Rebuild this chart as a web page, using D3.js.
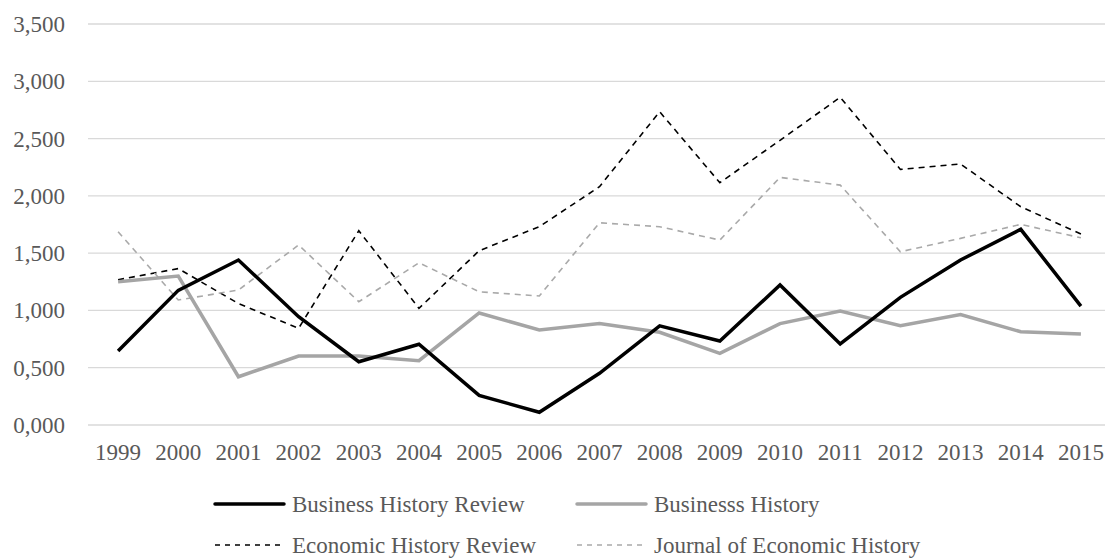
<!DOCTYPE html>
<html>
<head>
<meta charset="utf-8">
<script src="https://cdn.jsdelivr.net/npm/d3@7"></script>
<style>
html,body{margin:0;padding:0;background:#fff;}
svg text{font-family:"Liberation Serif","Times New Roman",serif;fill:#595959;}
</style>
</head>
<body>
<svg id="chart" width="1105" height="559"></svg>
<script>
const years = ["1999","2000","2001","2002","2003","2004","2005","2006","2007","2008","2009","2010","2011","2012","2013","2014","2015"];
const businessHistoryReview = [0.645,1.175,1.440,0.945,0.552,0.705,0.259,0.111,0.451,0.865,0.733,1.222,0.707,1.114,1.440,1.708,1.038];
const businesssHistory = [1.250,1.300,0.421,0.602,0.602,0.561,0.978,0.829,0.885,0.809,0.626,0.885,0.995,0.867,0.964,0.814,0.794];
const economicHistoryReview = [1.268,1.365,1.060,0.844,1.696,1.018,1.521,1.731,2.080,2.734,2.115,2.485,2.860,2.231,2.278,1.905,1.667];
const journalOfEconomicHistory = [1.687,1.091,1.178,1.571,1.076,1.416,1.163,1.126,1.765,1.731,1.614,2.161,2.094,1.512,1.629,1.751,1.634];
const yTicks = [0,0.5,1,1.5,2,2.5,3,3.5];
const seriesNames = ["Business History Review","Businesss History","Economic History Review","Journal of Economic History"];

const series = [
  {name: seriesNames[0], values: businessHistoryReview, color:"#000000", width:3.5, dash:null},
  {name: seriesNames[1], values: businesssHistory, color:"#a5a5a5", width:3.5, dash:null},
  {name: seriesNames[2], values: economicHistoryReview, color:"#000000", width:1.6, dash:"6,5"},
  {name: seriesNames[3], values: journalOfEconomicHistory, color:"#a9a9a9", width:1.6, dash:"6,5"}
];

const svg = d3.select("#chart");
const pLeft = 88, pRight = 1111, pTop = 24, pBottom = 425;
const fs = 23;

const x = d3.scalePoint().domain(years).range([pLeft, pRight]).padding(0.5);
const y = d3.scaleLinear().domain([0, 3.5]).range([pBottom, pTop]);

const locale = d3.formatLocale({decimal: ",", thousands: ".", grouping: [3], currency: ["", ""]});
const fmt = locale.format(".3f");

// gridlines
svg.append("g").selectAll("line").data(yTicks).join("line")
  .attr("x1", pLeft).attr("x2", 1105)
  .attr("y1", d => y(d)).attr("y2", d => y(d))
  .attr("stroke", "#d9d9d9").attr("stroke-width", 1.3);

// y labels
svg.append("g").selectAll("text").data(yTicks).join("text")
  .attr("x", 65).attr("y", d => y(d)).attr("dy", "0.35em")
  .attr("text-anchor", "end").attr("font-size", fs)
  .text(d => fmt(d));

// x labels
svg.append("g").selectAll("text").data(years).join("text")
  .attr("x", d => x(d)).attr("y", 452).attr("dy", "0.35em")
  .attr("text-anchor", "middle").attr("font-size", fs)
  .text(d => d);

const line = d3.line().x((d, i) => x(years[i])).y(d => y(d));

const order = [2, 3, 1, 0];
order.forEach(k => {
  const s = series[k];
  svg.append("path").datum(s.values)
    .attr("d", line).attr("fill", "none")
    .attr("stroke", s.color).attr("stroke-width", s.width)
    .attr("stroke-dasharray", s.dash)
    .attr("stroke-linejoin", "miter");
});

// legend
const legendItems = [
  {s: series[0], lx: 215, ly: 504},
  {s: series[1], lx: 577, ly: 504},
  {s: series[2], lx: 215, ly: 545},
  {s: series[3], lx: 577, ly: 545}
];
const lg = svg.append("g");
legendItems.forEach(it => {
  lg.append("line").attr("x1", it.lx).attr("x2", it.lx + 69)
    .attr("y1", it.ly).attr("y2", it.ly)
    .attr("stroke", it.s.color).attr("stroke-width", it.s.width)
    .attr("stroke-dasharray", it.s.dash ? "5,5" : null)
    .attr("stroke-linecap", it.s.dash ? "butt" : "round");
  lg.append("text").attr("x", it.lx + 77).attr("y", it.ly).attr("dy", "0.35em")
    .attr("font-size", fs).text(it.s.name);
});
</script>
</body>
</html>
